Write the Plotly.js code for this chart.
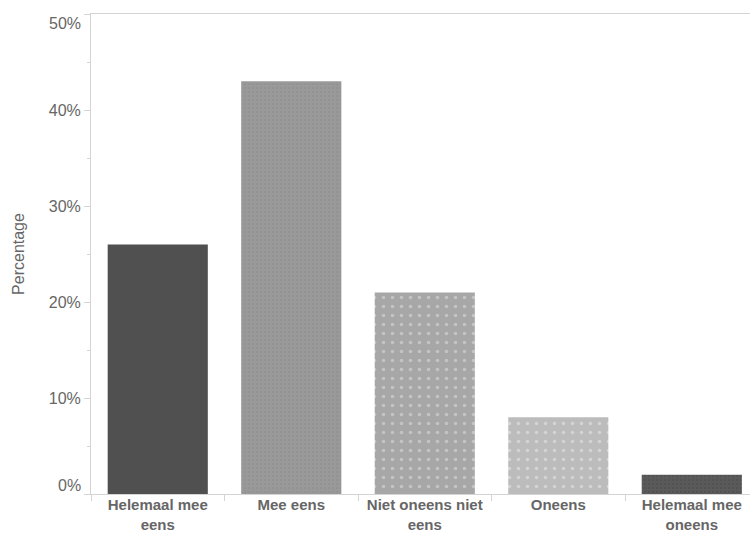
<!DOCTYPE html>
<html>
<head>
<meta charset="utf-8">
<script src="https://cdn.plot.ly/plotly-3.0.1.min.js"></script>
<style>html,body{margin:0;padding:0;overflow:hidden;background:#fff;}</style>
</head>
<body>
<div id="chart" style="width:750px;height:534px;"></div>
<script>
var categories = ["Helemaal mee<br>eens", "Mee eens", "Niet oneens niet<br>eens", "Oneens", "Helemaal mee<br>oneens"];
var values = [0.26, 0.43, 0.21, 0.08, 0.02];
var barColors = ["#505050", "#999999", "#a7a7a7", "#bcbcbc", "#5a5a5a"];
var dotColors = ["#505050", "#8a8a8a", "#c4c4c4", "#d4d4d4", "#484848"];
var dotSizes = [4, 4, 9, 9, 4];
var dotShapes = ["", ".", ".", ".", "."];
var yTickVals = [0, 0.1, 0.2, 0.3, 0.4, 0.5];
var yTickText = ["0%", "10%", "20%", "30%", "40%", "50%"];

var traces = categories.map(function (c, i) {
  return {
    type: "bar",
    x: [c],
    y: [values[i]],
    width: 0.75,
    marker: {
      color: barColors[i],
      line: {width: 0},
      pattern: {
        shape: dotShapes[i],
        fillmode: "overlay",
        fgcolor: dotColors[i],
        fgopacity: 1,
        size: dotSizes[i],
        solidity: 0.12
      }
    },
    hoverinfo: "x+y"
  };
});

// end labels are nudged inward (as in the reference) via annotations
var last = yTickVals.length - 1;
var innerText = yTickText.map(function (t, i) { return (i === 0 || i === last) ? "" : t; });
var endAnnotations = [0, last].map(function (i) {
  return {
    xref: "paper", yref: "y",
    x: 0, y: yTickVals[i],
    text: yTickText[i],
    showarrow: false,
    xanchor: "right", yanchor: "middle",
    xshift: -8,
    yshift: i === 0 ? 9 : -9,
    font: {size: 16, color: "#666666", family: "Liberation Sans, Arial, sans-serif"}
  };
});

var layout = {
  width: 750,
  height: 534,
  margin: {l: 91, r: 0, t: 14, b: 40},
  paper_bgcolor: "#ffffff",
  plot_bgcolor: "#ffffff",
  showlegend: false,
  barmode: "overlay",
  font: {family: "Liberation Sans, Arial, sans-serif", color: "#666666"},
  annotations: endAnnotations,
  xaxis: {
    type: "category",
    categoryorder: "array",
    categoryarray: categories,
    range: [-0.5, 4.436],
    showgrid: false,
    zeroline: false,
    showline: true,
    mirror: true,
    linecolor: "#d4d4d4",
    linewidth: 1,
    ticks: "outside",
    tickson: "boundaries",
    ticklen: 6,
    tickcolor: "#d4d4d4",
    ticklabelstandoff: -3,
    tickfont: {size: 15, color: "#666666", family: "Liberation Sans, Arial, sans-serif", weight: "bold"},
    fixedrange: true
  },
  yaxis: {
    range: [0, 0.5],
    tickvals: yTickVals,
    ticktext: innerText,
    showgrid: false,
    zeroline: false,
    showline: true,
    linecolor: "#d4d4d4",
    linewidth: 1,
    ticks: "outside",
    ticklen: 6,
    tickcolor: "#d4d4d4",
    tickfont: {size: 16, color: "#666666"},
    minor: {dtick: 0.05, ticks: "outside", ticklen: 3, tickcolor: "#d4d4d4"},
    title: {text: "Percentage", font: {size: 16, color: "#666666"}, standoff: 20},
    fixedrange: true
  }
};

Plotly.newPlot("chart", traces, layout, {displayModeBar: false, staticPlot: true});
</script>
</body>
</html>
